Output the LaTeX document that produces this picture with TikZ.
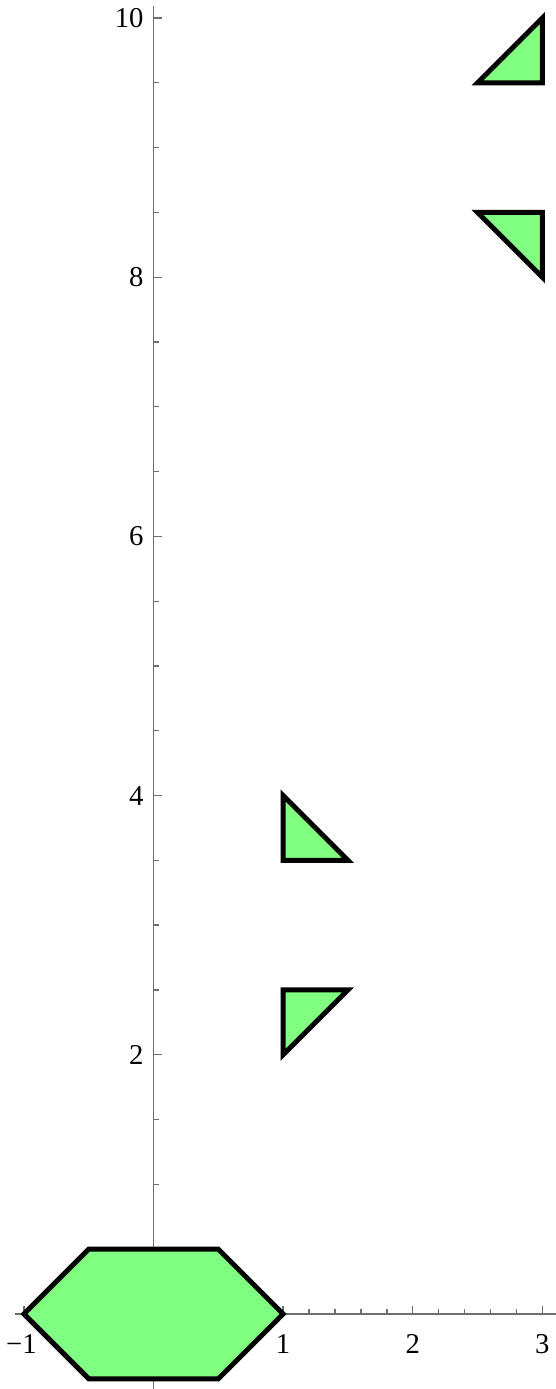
\documentclass[tikz,border=0pt]{standalone}
\usepackage{fontspec}
\setmainfont{Liberation Serif}
\definecolor{polyfill}{RGB}{128,255,128}
\definecolor{axisgray}{RGB}{110,110,110}
\tikzset{
  poly/.style={fill=polyfill,draw=black,line width=1.1pt,line join=miter},
  axisline/.style={draw=axisgray,line width=0.3pt},
  ticklab/.style={font=\fontsize{6.3}{7}\selectfont,inner sep=0pt}
}
\begin{document}
\begin{tikzpicture}[x=1cm,y=1cm]
\useasboundingbox (-1.185,-0.579) rectangle (3.105,10.139);
% axes
\draw[axisline] (-1.07,0) -- (3.105,0);
\draw[axisline] (0,-0.579) -- (0,10.09);
% x ticks
\foreach \t in {-1,1,2,3} \draw[axisline] (\t,0) -- (\t,0.062);
\foreach \t in {-0.8,-0.6,-0.4,-0.2,0.2,0.4,0.6,0.8,1.2,1.4,1.6,1.8,2.2,2.4,2.6,2.8} \draw[axisline] (\t,0) -- (\t,0.039);
% y ticks
\foreach \t in {2,4,6,8,10} \draw[axisline] (0,\t) -- (0.062,\t);
\foreach \t in {0.5,1,1.5,2.5,3,3.5,4.5,5,5.5,6.5,7,7.5,8.5,9,9.5} \draw[axisline] (0,\t) -- (0.039,\t);
% shapes
\draw[poly] (-1,0) -- (-0.5,0.5) -- (0.5,0.5) -- (1,0) -- (0.5,-0.5) -- (-0.5,-0.5) -- cycle;
\draw[poly] (1,3.5) -- (1,4) -- (1.5,3.5) -- cycle;
\draw[poly] (1,2) -- (1,2.5) -- (1.5,2.5) -- cycle;
\draw[poly] (2.5,9.5) -- (3,10) -- (3,9.5) -- cycle;
\draw[poly] (2.5,8.5) -- (3,8.5) -- (3,8) -- cycle;
% labels
\node[ticklab,anchor=north] (xm1) at (-1.02,-0.15) {−1};
\node[ticklab,anchor=north] (x1) at (1,-0.15) {1};
\node[ticklab,anchor=north] (x2) at (2,-0.15) {2};
\node[ticklab,anchor=north] (x3) at (3,-0.15) {3};
\node[ticklab,anchor=east] (y2) at (-0.07,2) {2};
\node[ticklab,anchor=east] (y4) at (-0.07,4) {4};
\node[ticklab,anchor=east] (y6) at (-0.07,6) {6};
\node[ticklab,anchor=east] (y8) at (-0.07,8) {8};
\node[ticklab,anchor=east] (y10) at (-0.07,10) {10};
\end{tikzpicture}
\end{document}
